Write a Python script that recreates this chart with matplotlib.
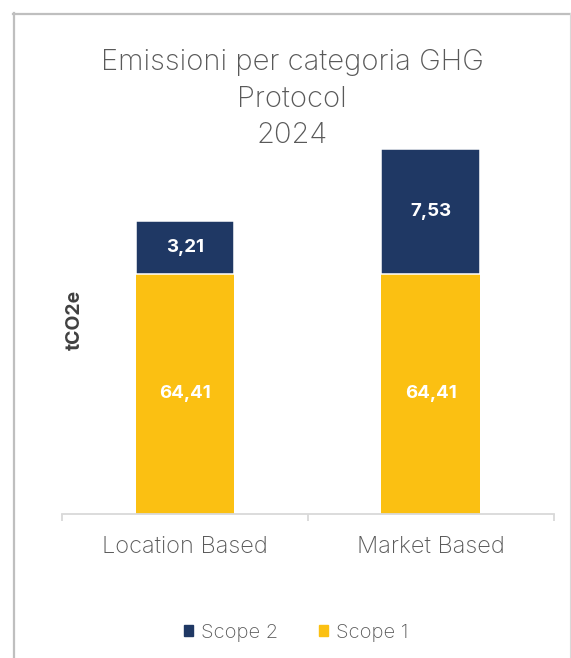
import matplotlib.pyplot as plt
from matplotlib.lines import Line2D
from matplotlib.patches import Patch

categories = ['Location Based', 'Market Based']
scope1_values = [64.41, 64.41]
scope1_labels = ['64,41', '64,41']
# scope 2 segments are drawn taller than their labels in the source chart;
scope2_heights = [14.2, 33.5]
scope2_labels = ['3,21', '7,53']

navy = '#1F3864'
yellow = '#FBC012'
grey_text = '#595959'
font = ['Inter', 'DejaVu Sans']

plt.rcParams['font.family'] = font

W, H = 571, 658
fig = plt.figure(figsize=(W / 100, H / 100), dpi=100)

# axes placed in pixel terms: x axis from 62 to 553, baseline at y=514
ax = fig.add_axes([62 / W, (H - 514) / H, 491.5 / W, 372.7 / H])
x = list(range(len(categories)))

ax.bar(x, scope1_values, width=0.4, color=yellow, linewidth=0)
ax.bar(x, scope2_heights, width=0.4, bottom=scope1_values, color=navy,
       edgecolor='white', linewidth=1.1)

for i in x:
    ax.text(i, scope1_values[i] / 2, scope1_labels[i], ha='center', va='center',
            color='white', fontsize=13.5, fontweight='bold')
    ax.text(i, scope1_values[i] + scope2_heights[i] / 2, scope2_labels[i],
            ha='center', va='center', color='white', fontsize=13.5, fontweight='bold')

ax.set_xlim(-0.5, 1.5)
ax.set_ylim(0, 100)
for s in ['top', 'right', 'left']:
    ax.spines[s].set_visible(False)
ax.spines['bottom'].set_color('#D9D9D9')
ax.spines['bottom'].set_linewidth(1.3)
ax.set_yticks([])
ax.set_xticks(x)
ax.set_xticklabels(categories, fontsize=17, color=grey_text, fontweight='light')
ax.tick_params(axis='x', which='major', length=0, pad=16)
ax.set_xticks([-0.5, 0.5, 1.5], minor=True)
ax.tick_params(axis='x', which='minor', length=5, width=1.3, color='#D9D9D9')

fig.text(75 / W, 1 - 320 / H, 'tCO2e', rotation=90, ha='center', va='center',
         fontsize=14, fontweight='bold', color='#404040')

fig.text(292 / W, 1 - 99 / H, 'Emissioni per categoria GHG\nProtocol\n2024',
         ha='center', va='center', fontsize=21, color=grey_text,
         fontweight='light', linespacing=1.43)

handles = [Patch(color=navy, label='Scope 2'), Patch(color=yellow, label='Scope 1')]
fig.legend(handles=handles, loc='center', bbox_to_anchor=(296 / W, 1 - 633 / H),
           ncol=2, frameon=False, handlelength=0.45, handleheight=0.45,
           handletextpad=0.4, columnspacing=2.0,
           labelcolor=grey_text, prop={'family': font, 'weight': 'light', 'size': 14.5})

# outer frame of the chart box (bottom edge is cut off in the source)
fig.add_artist(Line2D([14 / W, 14 / W], [0, 1 - 13 / H], color='#BFBFBF', lw=1.6))
fig.add_artist(Line2D([13 / W, 570 / W], [1 - 14 / H, 1 - 14 / H], color='#BFBFBF', lw=1.6))
fig.add_artist(Line2D([569.5 / W, 569.5 / W], [0, 1 - 13 / H], color='#D9D9D9', lw=0.8))

fig.savefig('out.png', dpi=100, facecolor='white')
